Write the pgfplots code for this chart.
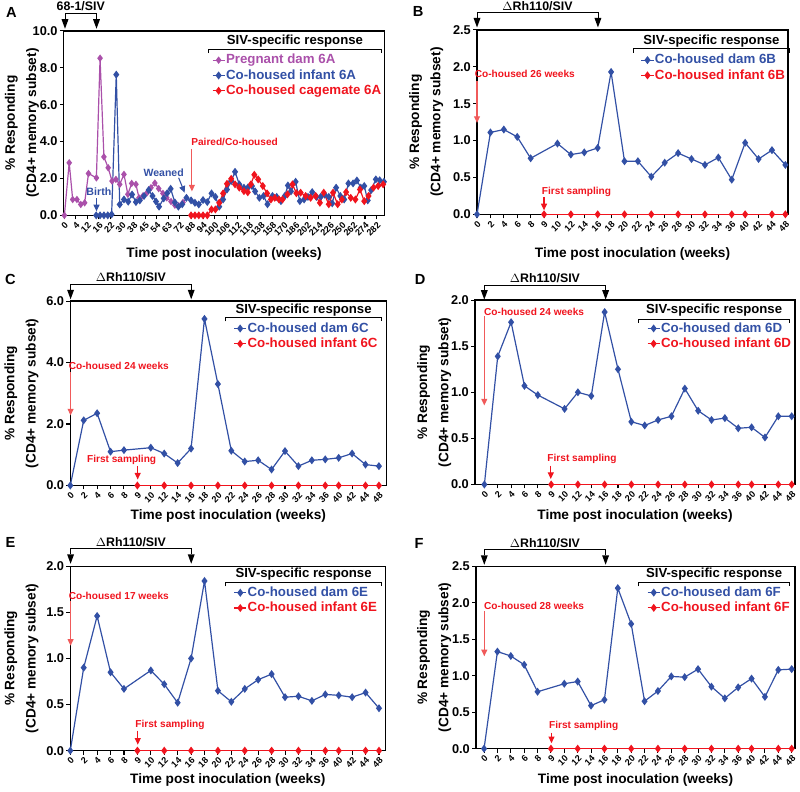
\documentclass[border=0pt]{standalone}
\usepackage{fontspec}
\setmainfont{Liberation Sans}
\usepackage{pgfplots}
\pgfplotsset{compat=1.18}
\usetikzlibrary{arrows.meta}

\definecolor{cblue}{RGB}{50,80,165}
\definecolor{cpurp}{RGB}{170,80,170}
\definecolor{cred}{RGB}{240,20,30}
\definecolor{carrow}{RGB}{240,90,90}

\pgfplotsset{
  panel/.style={
    scale only axis, clip=false,
    axis line style={line width=1pt},
    every tick/.style={black, line width=0.8pt},
    tick align=outside, major tick length=3pt,
    xtick pos=bottom, ytick pos=left,
    ymin=0,
    y tick label style={/pgf/number format/.cd, fixed, fixed zerofill, precision=1,
      assume math mode=true, /tikz/.cd, font=\bfseries\fontsize{9.6}{10}\selectfont, inner sep=1.5pt},
    x tick label style={rotate=45, anchor=north east, font=\bfseries\fontsize{6.8}{7}\selectfont, inner sep=1pt},
    xlabel={Time post inoculation (weeks)},
    xlabel style={font=\bfseries\fontsize{10.3}{12}\selectfont, anchor=center},
    ylabel={\% Responding\\(CD4+ memory subset)},
    ylabel style={font=\bfseries\fontsize{10.3}{16}\selectfont, align=center, anchor=center},
    legend cell align=left,
    legend style={draw=none, fill=none, anchor=north west, row sep=1pt,
      font=\bfseries\fontsize{10}{10}\selectfont,
      nodes={inner sep=0.6pt, text height=7.4pt, text depth=1.9pt}},
    legend image code/.code={\draw[mark repeat=2,mark phase=2,##1] plot coordinates {(0cm,0cm) (0.16cm,0cm) (0.32cm,0cm)};},
  },
  weeks/.style={panel, xtick={0,...,23},
    xticklabels={0,2,4,6,8,9,10,12,14,16,18,20,22,24,26,28,30,32,34,36,40,42,44,48}},
  ylab/.style={ylabel style={at={([xshift=-#1]axis description cs:0,0.5)}}},
  xlab/.style={xlabel style={at={([yshift=-#1]axis description cs:0.5,0)}}},
  sblue/.style={cblue, line width=0.9pt, mark=diamond*, mark size=2.3pt, mark options={solid}},
  sred/.style={cred, line width=0.9pt, mark=diamond*, mark size=2.3pt, mark options={solid}},
  spurp/.style={cpurp, line width=0.9pt, mark=diamond*, mark size=2.1pt, mark options={solid}},
}

\begin{document}
\begin{tikzpicture}

% ---------- A ----------
\begin{axis}[panel, at={(46.125pt,-162pt)}, anchor=south west,
  width=241.125pt, height=138.75pt,
  xmin=-0.1, xmax=83, ymax=10, ytick={0,2,...,10},
  xtick={0,3,...,81},
  xticklabels={0,4,12,16,22,30,38,45,54,63,72,88,94,100,106,112,118,138,158,170,186,202,214,226,250,262,274,282},
  ylab=31.5pt, xlab=29.25pt,
  legend style={at={(0.449,0.895)}}]
\addplot[spurp] coordinates {
(0.05,0) (1.3,2.85) (2.2,0.86) (3.3,0.86) (4.3,0.59) (5.3,0.68) (6.3,2.27)
(8.35,2.03) (9.3,8.52) (10.3,3.17) (11.4,2.58) (12.4,1.86) (13.4,1.95) (14.4,1.68)
(15.5,2.22) (16.5,1.14) (17.5,1.73) (18.6,1.68) (19.4,0.95) (20.4,1.05) (21.5,1.23)
(22.5,1.5) (23.5,1.75) (24.5,1.45) (25.6,1.19) (26.6,0.95) (27.7,0.75) (28.7,0.55)
(29.7,0.52) (30.8,0.7)};
\addlegendentry{\textcolor{cpurp}{Pregnant dam 6A}}
\addplot[sblue] coordinates {
(8.3,0) (9.3,0) (10.3,0) (11.3,0) (12.3,0.05) (13.5,7.63) (14.4,0.59) (15.5,0.86)
(16.6,0.74) (17.6,1.13) (18.6,0.72) (19.6,0.81) (20.7,1.05) (21.9,1.37) (22.9,1.05)
(23.8,0.75) (24.6,0.47) (25.8,0.92) (26.7,1.2) (27.6,1.44) (28.7,0.7) (29.6,0.47)
(30.6,0.6) (31.7,0.95) (32.9,0.81) (33.9,0.68) (34.9,0.59) (36.0,0.83) (37.1,0.72)
(38.2,1.19) (39.2,1.0) (40.2,0.47) (41.2,0.86) (42.2,1.4) (43.3,1.86) (44.3,2.36)
(45.4,1.68) (46.6,1.5) (47.6,1.5) (48.7,1.59) (49.5,1.3) (50.6,0.95) (51.7,1.05)
(52.7,0.6) (54.0,1.05) (55.1,1.0) (56.2,0.77) (57.2,1.05) (58.0,1.62) (58.8,1.3)
(60.0,1.82) (61.1,0.77) (62.2,0.86) (63.2,1.0) (64.3,1.26) (65.4,1.0) (66.5,1.0)
(67.5,1.13) (68.6,1.0) (69.5,0.65) (70.5,1.5) (71.6,1.05) (72.6,0.86) (73.7,1.73)
(74.9,1.73) (75.9,1.89) (76.9,1.5) (77.8,1.59) (78.7,0.81) (79.6,1.37) (80.8,1.95)
(81.8,1.9) (82.9,1.82)};
\addlegendentry{\textcolor{cblue}{Co-housed infant 6A}}
\addplot[sred] coordinates {
(32.9,0) (33.9,0) (34.9,0) (36.0,0) (37.1,0) (38.2,0.32) (39.2,0.32) (40.2,0.68)
(41.2,1.19) (42.2,1.71) (43.3,1.98) (44.3,1.68) (45.4,1.5) (46.6,1.31) (47.6,1.25)
(48.4,1.68) (49.3,2.2) (50.3,1.95) (51.5,1.59) (52.6,1.19) (53.6,0.86) (54.6,0.95)
(55.7,0.86) (56.6,0.86) (57.9,1.14) (59.2,1.68) (60.2,1.2) (61.3,1.23) (62.6,1.05)
(63.9,0.95) (65.2,1.05) (66.3,0.68) (67.3,1.23) (68.6,0.6) (69.7,1.23) (70.9,0.6)
(72.0,0.86) (73.1,1.26) (74.3,0.95) (75.5,0.86) (76.7,1.4) (77.8,0.77) (78.9,1.05)
(80.2,1.5) (81.4,1.59) (82.7,1.68)};
\addlegendentry{\textcolor{cred}{Co-housed cagemate 6A}}
\end{axis}

% ---------- B ----------
\begin{axis}[weeks, at={(357pt,-161.25pt)}, anchor=south west,
  width=234pt, height=138.75pt,
  xmin=0, xmax=23.2, ymax=2.5, ytick={0,0.5,...,2.5},
  ylab=38.25pt, xlab=30pt,
  legend style={at={(0.513,0.89)}}]
\addplot[sblue] coordinates {(0,0) (1,1.11) (2,1.15) (3,1.05) (4,0.76) (6,0.96) (7,0.81)
(8,0.84) (9,0.90) (10,1.93) (11,0.72) (12,0.72) (13,0.51) (14,0.70) (15,0.83) (16,0.75)
(17,0.67) (18,0.77) (19,0.47) (20,0.97) (21,0.75) (22,0.87) (23,0.67)};
\addlegendentry{\textcolor{cblue}{Co-housed dam 6B}}
\addplot[sred] coordinates {(5,0) (7,0) (9,0) (11,0) (13,0) (15,0) (17,0) (19,0) (20,0) (22,0) (23,0)};
\addlegendentry{\textcolor{cred}{Co-housed infant 6B}}
\end{axis}

% ---------- C ----------
\begin{axis}[weeks, at={(51pt,-365.25pt)}, anchor=south west,
  width=237.75pt, height=138.75pt,
  xmin=0, xmax=23.55, ymax=6, ytick={0,2,...,6},
  ylab=36.75pt, xlab=23.25pt,
  legend style={at={(0.503,0.905)}}]
\addplot[sblue] coordinates {(0,0) (1,2.12) (2,2.35) (3,1.10) (4,1.15) (6,1.23) (7,1.04)
(8,0.73) (9,1.20) (10,5.42) (11,3.30) (12,1.13) (13,0.78) (14,0.82) (15,0.52) (16,1.12)
(17,0.63) (18,0.82) (19,0.85) (20,0.90) (21,1.04) (22,0.68) (23,0.63)};
\addlegendentry{\textcolor{cblue}{Co-housed dam 6C}}
\addplot[sred] coordinates {(5,0) (7,0) (9,0) (11,0) (13,0) (15,0) (17,0) (19,0) (20,0) (22,0) (23,0)};
\addlegendentry{\textcolor{cred}{Co-housed infant 6C}}
\end{axis}

% ---------- D ----------
\begin{axis}[weeks, at={(355.5pt,-364.5pt)}, anchor=south west,
  width=240.75pt, height=138.75pt,
  xmin=-0.7, xmax=23.25, ymax=2, ytick={0,0.5,...,2},
  ylab=30.75pt, xlab=24pt,
  legend style={at={(0.524,0.9)}}]
\addplot[sblue] coordinates {(0,0) (1,1.39) (2,1.76) (3,1.07) (4,0.97) (6,0.82) (7,1.00)
(8,0.96) (9,1.87) (10,1.25) (11,0.68) (12,0.64) (13,0.70) (14,0.74) (15,1.04) (16,0.80)
(17,0.70) (18,0.72) (19,0.61) (20,0.62) (21,0.51) (22,0.74) (23,0.74)};
\addlegendentry{\textcolor{cblue}{Co-housed dam 6D}}
\addplot[sred] coordinates {(5,0) (7,0) (9,0) (11,0) (13,0) (15,0) (17,0) (19,0) (20,0) (22,0) (23,0)};
\addlegendentry{\textcolor{cred}{Co-housed infant 6D}}
\end{axis}

% ---------- E ----------
\begin{axis}[weeks, at={(51pt,-564.75pt)}, anchor=south west,
  width=237pt, height=138.75pt,
  xmin=0, xmax=23.47, ymax=2, ytick={0,0.5,...,2},
  ylab=36.75pt, xlab=21.75pt,
  legend style={at={(0.505,0.91)}}]
\addplot[sblue] coordinates {(0,0) (1,0.90) (2,1.46) (3,0.85) (4,0.67) (6,0.87) (7,0.72)
(8,0.52) (9,1.00) (10,1.84) (11,0.65) (12,0.53) (13,0.67) (14,0.77) (15,0.83) (16,0.58)
(17,0.59) (18,0.54) (19,0.61) (20,0.60) (21,0.58) (22,0.63) (23,0.46)};
\addlegendentry{\textcolor{cblue}{Co-housed dam 6E}}
\addplot[sred] coordinates {(5,0) (7,0) (9,0) (11,0) (13,0) (15,0) (17,0) (19,0) (20,0) (22,0) (23,0)};
\addlegendentry{\textcolor{cred}{Co-housed infant 6E}}
\end{axis}

% ---------- F ----------
\begin{axis}[weeks, at={(356.25pt,-563.25pt)}, anchor=south west,
  width=240pt, height=137.25pt,
  xmin=-0.6, xmax=23.25, ymax=2.5, ytick={0,0.5,...,2.5},
  ylab=31.5pt, xlab=23.25pt,
  legend style={at={(0.523,0.91)}}]
\addplot[sblue] coordinates {(0,0) (1,1.33) (2,1.27) (3,1.15) (4,0.78) (6,0.89) (7,0.92)
(8,0.59) (9,0.67) (10,2.20) (11,1.71) (12,0.65) (13,0.79) (14,0.99) (15,0.98) (16,1.09)
(17,0.85) (18,0.69) (19,0.84) (20,0.96) (21,0.71) (22,1.08) (23,1.09)};
\addlegendentry{\textcolor{cblue}{Co-housed dam 6F}}
\addplot[sred] coordinates {(5,0) (7,0) (9,0) (11,0) (13,0) (15,0) (17,0) (19,0) (20,0) (22,0) (23,0)};
\addlegendentry{\textcolor{cred}{Co-housed infant 6F}}
\end{axis}

% ---------- annotations (pixel grid, y down) ----------
\begin{scope}[x=0.75pt, y=-0.75pt]
\path[use as bounding box] (0,0) rectangle (800,794);
\tikzset{
  lett/.style={font=\bfseries\fontsize{11}{12}\selectfont},
  top/.style={font=\bfseries\fontsize{9.3}{11}\selectfont},
  siv/.style={font=\bfseries\fontsize{9.9}{11}\selectfont},
  note/.style={font=\bfseries\fontsize{7.6}{9}\selectfont},
  arr/.style={-{Triangle[width=4.5pt,length=5pt]}, line width=0.8pt},
}
\newcommand\topbr[5]{% x1,x2,ybracket,ytriangletop,label
  \draw[line width=0.6pt] (#1,#4) -- (#1,#3) -- (#2,#3) -- (#2,#4);
  \fill (#1-3.5,#4) -- (#1+3.5,#4) -- (#1,#4+9.5) -- cycle;
  \fill (#2-3.5,#4) -- (#2+3.5,#4) -- (#2,#4+9.5) -- cycle;
  \node[top] at ({(#1+#2)/2},#3-6.5) {#5};}
\newcommand\sivbr[4]{% x1,x2,ybracket,ytitle
  \draw[line width=0.6pt] (#1,#3+4) -- (#1,#3) -- (#2,#3) -- (#2,#3+4);
  \node[siv] at ({(#1+#2)/2},#4) {SIV-specific response};}

% A
\node[lett] at (9,13) {A};
\topbr{62.7}{94.3}{13}{19.3}{68-1/SIV}
\sivbr{206.7}{380}{49.3}{41.7}
\node[note, cblue, font=\bfseries\fontsize{8}{9}\selectfont] at (96.7,192.5) {Birth};
\draw[arr, cblue] (94.3,199) -- (94.3,212);
\node[note, cblue, font=\bfseries\fontsize{7.9}{9}\selectfont] at (161.7,173) {Weaned};
\draw[arr, cblue] (176.7,178.3) -- (182.7,193.3);
\node[note, cred] at (232.8,142.7) {Paired/Co-housed};
\draw[arr, carrow] (190,149) -- (190,192);

% B
\node[lett] at (417,12) {B};
\topbr{476}{597.3}{12.3}{18}{$\Delta$Rh110/SIV}
\sivbr{633.3}{789}{49}{41.7}
\node[note, cred] at (524,74) {Co-housed 26 weeks};
\draw[arr, carrow] (476,81.7) -- (476,123.3);
\node[note, cred] at (575.8,192.7) {First sampling};
\draw[arr, cred] (543.2,198) -- (543.2,211);

% C
\node[lett] at (8,280) {C};
\topbr{68.3}{189.3}{285}{290.7}{$\Delta$Rh110/SIV}
\sivbr{224}{380}{318.3}{310.7}
\node[note, cred] at (116.7,367.3) {Co-housed 24 weeks};
\draw[arr, carrow] (68.3,373) -- (68.3,416.7);
\node[note, cred] at (119.5,461.7) {First sampling};
\draw[arr, cred] (135.6,467.3) -- (135.6,481);

% D
\node[lett] at (419,280) {D};
\topbr{483.3}{605}{286}{291}{$\Delta$Rh110/SIV}
\sivbr{638.3}{789.3}{320}{310.7}
\node[note, cred] at (533.3,312.7) {Co-housed 24 weeks};
\draw[arr, carrow] (483.3,317) -- (483.3,406.7);
\node[note, cred] at (581.3,460.7) {First sampling};
\draw[arr, cred] (550,467) -- (550,480.5);

% E
\node[lett] at (8,544) {E};
\topbr{68.3}{189.3}{550}{556}{$\Delta$Rh110/SIV}
\sivbr{224}{380}{584.3}{575.7}
\node[note, cred] at (116.7,597.3) {Co-housed 17 weeks};
\draw[arr, carrow] (68.3,603) -- (68.3,647.7);
\node[note, cred] at (168,727.3) {First sampling};
\draw[arr, cred] (135.7,733) -- (135.7,747);

% F
\node[lett] at (418,545) {F};
\topbr{483.3}{605}{551}{557}{$\Delta$Rh110/SIV}
\sivbr{638.3}{789.3}{584.3}{575.7}
\node[note, cred] at (533.3,607.7) {Co-housed 28 weeks};
\draw[arr, carrow] (483.3,613) -- (483.3,658.3);
\node[note, cred] at (583,727.7) {First sampling};
\draw[arr, cred] (550.7,735) -- (550.7,745.5);
\end{scope}
\end{tikzpicture}
\end{document}
